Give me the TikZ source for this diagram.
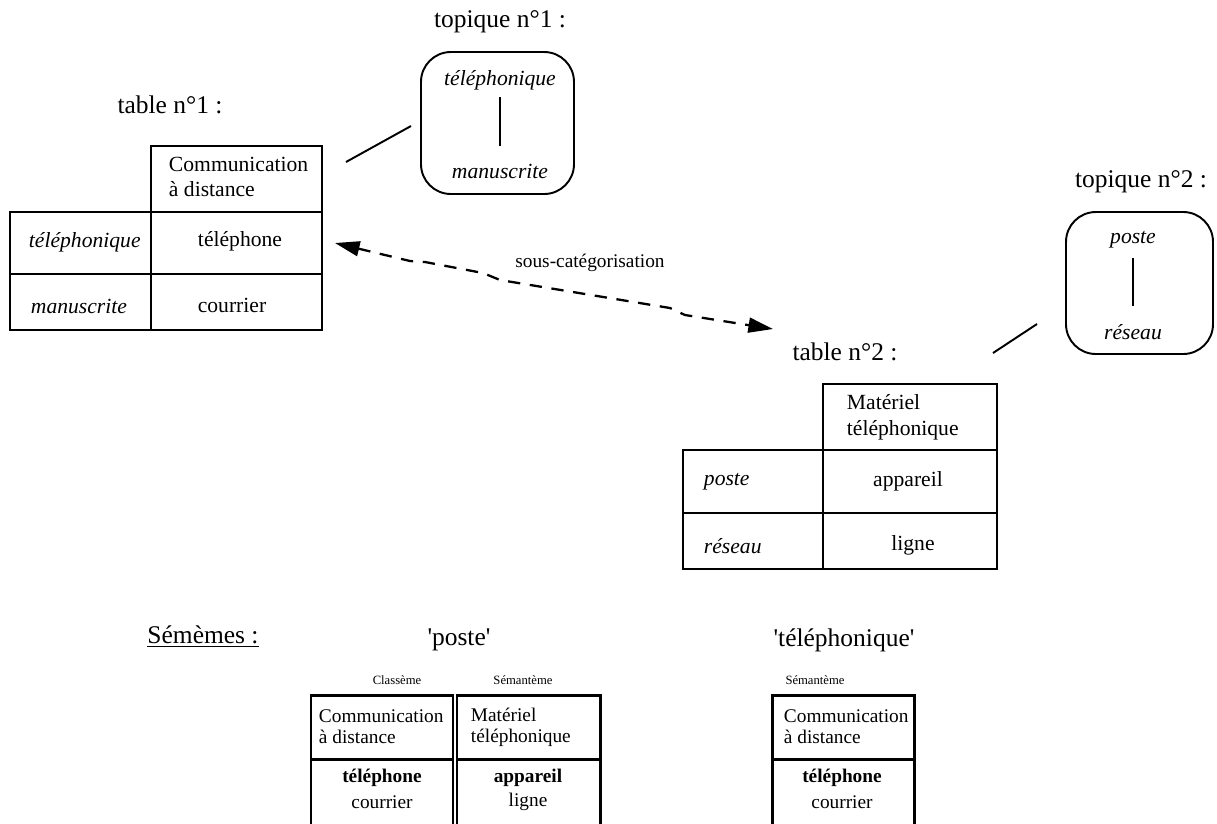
\documentclass[tikz,border=0pt]{standalone}
\usepackage{fontspec}
\setmainfont{Liberation Serif}[Ligatures=TeXOff]
\usetikzlibrary{arrows.meta}
\begin{document}
\begin{tikzpicture}[x=0.02cm,y=-0.02cm,line width=1.1pt,
titre/.style={font=\fontsize{14.5}{17}\selectfont},
cel/.style={font=\fontsize{12.3}{14.7}\selectfont},
mot/.style={font=\fontsize{12.3}{14.7}\selectfont\itshape},
petit/.style={font=\fontsize{7.2}{9}\selectfont},
sem/.style={font=\fontsize{11}{12}\selectfont},
entete/.style={align=left,anchor=west,inner sep=0pt},
topique/.style={rounded corners=17pt},
seme/.style={line width=1.7pt}]
\useasboundingbox(0,0)rectangle(1217,823);
% table n°1
\node[titre](titreA)at(170,105){table n°1 :};
\draw(151,146)rectangle(322,212);
\draw(10,212)rectangle(322,330);
\draw(151,212)--(151,330);
\draw(10,274)--(322,274);
\node[cel,entete](catA)at(168,177){Communication\\à distance};
\node[mot,anchor=west,inner sep=0pt](telA)at(28,242){téléphonique};
\node[mot,anchor=west,inner sep=0pt](manA)at(30,306){manuscrite};
\node[cel](valA1)at(240,241){téléphone};
\node[cel](valA2)at(232,305){courrier};
% topique n°1
\node[titre](titreTA)at(500,22){topique n°1 :};
\draw[topique](421,52)rectangle(574,194);
\node[mot](hautTA)at(500,80){téléphonique};
\node[mot](basTA)at(500,171){manuscrite};
\draw(500,97)--(500,146);
\coordinate(lienA1)at(346,162);
\coordinate(lienA2)at(411,126);
\draw(lienA1)--(lienA2);
% table n°2
\node[titre](titreB)at(845,352){table n°2 :};
\draw(823,384)rectangle(997,450);
\draw(683,450)rectangle(997,569);
\draw(823,450)--(823,569);
\draw(683,513)--(997,513);
\node[cel,entete](catB)at(846,417){Matériel\\téléphonique};
\node[mot,anchor=west,inner sep=0pt](posB)at(703,482){poste};
\node[mot,anchor=west,inner sep=0pt](resB)at(703,546){réseau};
\node[cel](valB1)at(908,481){appareil};
\node[cel](valB2)at(913,545){ligne};
% topique n°2
\node[titre](titreTB)at(1141,182){topique n°2 :};
\draw[topique](1066,212)rectangle(1213,354);
\node[mot](hautTB)at(1133,240){poste};
\node[mot](basTB)at(1133,332){réseau};
\draw(1133,258)--(1133,306);
\coordinate(lienB1)at(993,353);
\coordinate(lienB2)at(1037,324);
\draw(lienB1)--(lienB2);
% sous-categorisation
\coordinate(flA)at(335,243);
\coordinate(flB)at(773,329);
\draw[line width=1.3pt,dash pattern=on 7pt off 5.5pt,{Triangle[length=14pt,width=8.5pt]}-{Triangle[length=14pt,width=8.5pt]}]
(flA)--(410,261)--(425,262)--(483,273)--(500,280)--(670,308)--(685,315)--(flB);
\node[sem](souscat)at(590,263){sous-catégorisation};
% sememes
\node[titre](sememes)at(203,637){\underline{Sémèmes :}};
\node[titre](poste)at(459,640){'poste'};
\node[titre](telph)at(844,640){'téléphonique'};
\node[petit](classA)at(397,680){Classème};
\node[petit](semB)at(523,680){Sémantème};
\node[petit](semC)at(815,680){Sémantème};
\draw[seme](311,840)--(311,695)--(453,695)--(453,840);
\draw[seme](311,759)--(453,759);
\draw[seme](457,840)--(457,695)--(600,695)--(600,840);
\draw[seme](457,759)--(600,759);
\draw[seme](772,840)--(772,695)--(914,695)--(914,840);
\draw[seme](772,759)--(914,759);
\node[sem,entete](semA1)at(318,727){Communication\\à distance};
\node[sem,entete](semB1)at(470,727){Matériel\\téléphonique};
\node[sem,entete](semC1)at(783,727){Communication\\à distance};
\node[sem](semA2)at(382,778){\textbf{téléphone}};
\node[sem](semA3)at(382,802){courrier};
\node[sem](semB2)at(528,778){\textbf{appareil}};
\node[sem](semB3)at(528,802){ligne};
\node[sem](semC2)at(842,778){\textbf{téléphone}};
\node[sem](semC3)at(842,802){courrier};
\end{tikzpicture}
\end{document}
